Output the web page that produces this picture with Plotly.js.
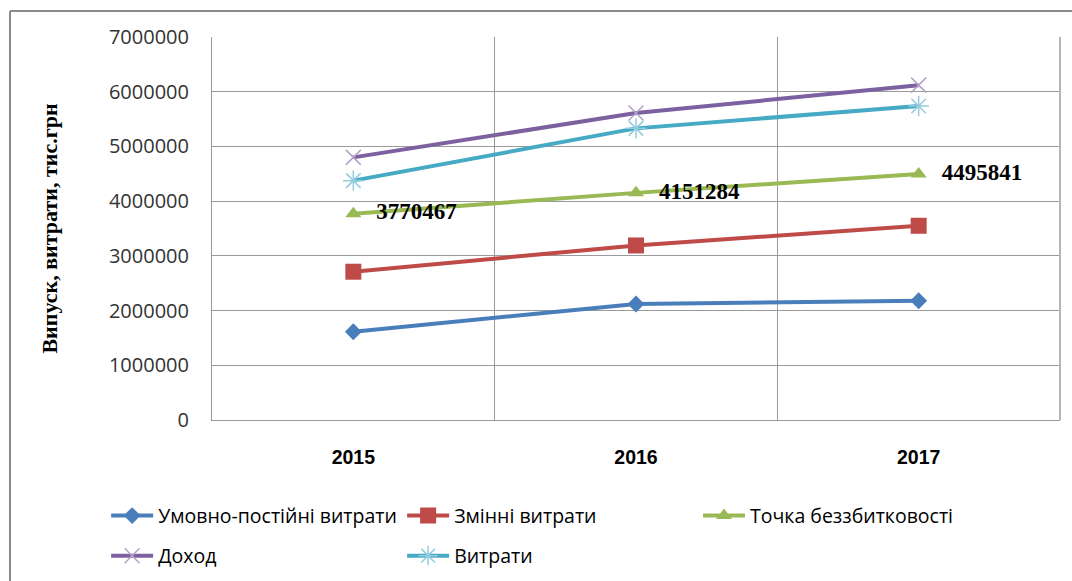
<!DOCTYPE html>
<html>
<head>
<meta charset="utf-8">
<script src="https://cdn.plot.ly/plotly-3.0.1.min.js"></script>
<style>html,body{margin:0;padding:0;background:#fff;}#chart{width:1072px;height:581px;}</style>
</head>
<body>
<div id="chart"></div>
<script>
var years = ['2015', '2016', '2017'];
var fixedCosts = [1614000, 2120000, 2180000];
var variableCosts = [2710000, 3190000, 3550000];
var breakEven = [3770467, 4151284, 4495841];
var income = [4800000, 5610000, 6120000];
var costs = [4375000, 5330000, 5740000];
var yTicks = [0, 1000000, 2000000, 3000000, 4000000, 5000000, 6000000, 7000000];

var names = ['Умовно-постійні витрати', 'Змінні витрати', 'Точка беззбитковості', 'Доход', 'Витрати'];

function line(y, name, color, marker, legend) {
  return {
    x: years, y: y, name: name, type: 'scatter', mode: 'lines+markers',
    line: {color: color, width: 4},
    marker: marker,
    legend: legend,
    hoverinfo: 'skip'
  };
}

var traces = [
  line(fixedCosts, names[0], '#4A7EBB', {symbol: 'diamond', size: 13, color: '#4A7EBB'}, 'legend'),
  line(variableCosts, names[1], '#BE4B48', {symbol: 'square', size: 16, color: '#BE4B48'}, 'legend'),
  line(breakEven, names[2], '#98B954', {symbol: 'triangle-up', size: 14, color: '#98B954'}, 'legend3'),
  line(income, names[3], '#7D60A0', {symbol: 'x-thin', size: 15, color: '#B3A2C7', line: {color: '#B3A2C7', width: 1.5}}, 'legend2'),
  line(costs, names[4], '#46AAC5', {symbol: 'asterisk', size: 17, color: '#93CDDD', line: {color: '#93CDDD', width: 1.5}}, 'legend2'),
  {
    x: years, y: breakEven, type: 'scatter', mode: 'text', showlegend: false,
    text: breakEven.map(function(v){ return '\u2003' + v; }), textposition: 'middle right',
    textfont: {family: 'Liberation Serif, Times New Roman, serif', size: 23, color: '#000', weight: 'bold'},
    hoverinfo: 'skip', cliponaxis: false
  }
];

var legendFont = {family: 'Open Sans, sans-serif', size: 19.5, color: '#000'};

function legendAt(x, y) {
  return {
    orientation: 'h', xref: 'container', yref: 'container', x: x, y: y, xanchor: 'left', yanchor: 'middle',
    entrywidth: 239, entrywidthmode: 'pixels', itemwidth: 42, font: legendFont, bgcolor: 'rgba(0,0,0,0)',
    traceorder: 'normal'
  };
}

var layout = {
  width: 1072, height: 581,
  margin: {l: 212, r: 12, t: 37, b: 161},
  paper_bgcolor: '#fff', plot_bgcolor: '#fff',
  showlegend: true,
  xaxis: {
    type: 'category', range: [-0.5, 2.5], tickson: 'boundaries',
    showgrid: true, gridcolor: '#9a9a9a', gridwidth: 1,
    showline: true, linecolor: '#9a9a9a', linewidth: 1, mirror: false,
    ticks: '', ticklabelstandoff: 20,
    tickfont: {family: 'Liberation Sans, Arial, sans-serif', size: 19.5, color: '#000', weight: 'bold'},
    fixedrange: true, zeroline: false
  },
  yaxis: {
    range: [0, 7000000], tickvals: yTicks, ticktext: yTicks.map(String),
    showgrid: true, gridcolor: '#9a9a9a', gridwidth: 1,
    showline: true, linecolor: '#9a9a9a', linewidth: 1,
    ticks: '', ticklabelstandoff: 18, zeroline: false,
    tickfont: {family: 'Open Sans, sans-serif', size: 20, color: '#333'},
    title: {text: 'Випуск, витрати, тис.грн', standoff: 45,
      font: {family: 'Liberation Serif, Times New Roman, serif', size: 22, color: '#000', weight: 'bold'}},
    automargin: false, fixedrange: true
  },
  legend: legendAt(0.099, 0.112),
  legend3: legendAt((702 - 4) / 1072, 0.112),
  legend2: legendAt(0.099, 0.043),
  shapes: [
    {type: 'line', xref: 'paper', yref: 'paper', x0: (10 - 212) / 848, x1: (1080 - 212) / 848,
     y0: (420 - 11) / 383, y1: (420 - 11) / 383, line: {color: '#8a8a8a', width: 2}},
    {type: 'line', xref: 'paper', yref: 'paper', x0: (10 - 212) / 848, x1: (10 - 212) / 848,
     y0: (420 - 11) / 383, y1: (420 - 590) / 383, line: {color: '#8a8a8a', width: 2}},
    {type: 'line', xref: 'paper', yref: 'paper', x0: 1, x1: 1, y0: 0, y1: 1, line: {color: '#b5b5b5', width: 2}}
  ]
};

Plotly.newPlot('chart', traces, layout, {displayModeBar: false, staticPlot: true});
</script>
</body>
</html>
